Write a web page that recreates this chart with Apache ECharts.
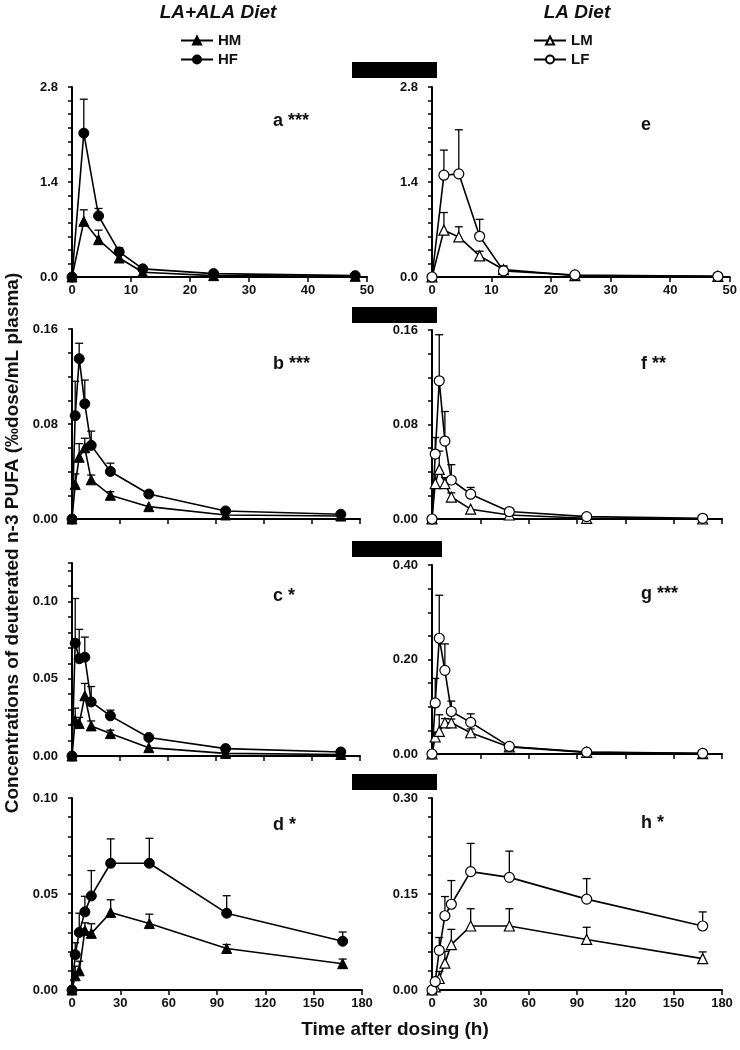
<!DOCTYPE html>
<html>
<head>
<meta charset="utf-8">
<script src="https://cdn.jsdelivr.net/npm/echarts@6/dist/echarts.min.js"></script>
<style>
  html, body { margin: 0; padding: 0; background: #fff; }
  #chart { width: 740px; height: 1050px; }
</style>
</head>
<body>
<div id="chart"></div>
<script>
var FONT = 'Liberation Sans, Arial, sans-serif'

// sampling times (h)
var timesShort = [0, 2, 4.5, 8, 12, 24, 48]
var timesLong = [0, 2, 4.5, 8, 12, 24, 48, 96, 168]

// panel a (LA+ALA diet)
var aHM = [0, 0.82, 0.55, 0.28, 0.07, 0.02, 0.01]
var aHMsd = [0, 0.17, 0.14, 0.08, 0.02, 0, 0]
var aHF = [0, 2.12, 0.90, 0.37, 0.12, 0.05, 0.02]
var aHFsd = [0, 0.50, 0.11, 0.06, 0.03, 0.01, 0]
// panel e (LA diet)
var eLM = [0, 0.69, 0.59, 0.31, 0.11, 0.02, 0.01]
var eLMsd = [0, 0.26, 0.15, 0.07, 0.05, 0, 0]
var eLF = [0, 1.50, 1.52, 0.60, 0.09, 0.03, 0.01]
var eLFsd = [0, 0.37, 0.65, 0.25, 0.07, 0, 0]

// panel b
var bHM = [0, 0.029, 0.052, 0.060, 0.033, 0.020, 0.0104, 0.0034, 0.0025]
var bHMsd = [0, 0.009, 0.0115, 0.008, 0.004, 0.003, 0, 0, 0]
var bHF = [0, 0.087, 0.135, 0.097, 0.062, 0.040, 0.021, 0.0068, 0.004]
var bHFsd = [0, 0.029, 0.013, 0.020, 0.012, 0.007, 0, 0, 0]
// panel f
var fLM = [0, 0.030, 0.042, 0.030, 0.0186, 0.0083, 0.0034, 0.0006, 0]
var fLMsd = [0, 0.008, 0.0155, 0.005, 0.0035, 0, 0, 0, 0]
var fLF = [0, 0.055, 0.117, 0.066, 0.033, 0.021, 0.0063, 0.002, 0.0006]
var fLFsd = [0, 0.014, 0.039, 0.025, 0.013, 0.0057, 0.0015, 0, 0]

// panel c
var cHM = [0, 0.023, 0.021, 0.039, 0.0195, 0.0145, 0.0054, 0.0017, 0.001]
var cHMsd = [0, 0.008, 0.004, 0.008, 0.0032, 0.0022, 0, 0, 0]
var cHF = [0, 0.073, 0.063, 0.064, 0.035, 0.026, 0.012, 0.0048, 0.0026]
var cHFsd = [0, 0.029, 0.019, 0.013, 0.010, 0.0037, 0.001, 0, 0]
// panel g
var gLM = [0, 0.036, 0.048, 0.066, 0.066, 0.045, 0.015, 0.0035, 0.0007]
var gLMsd = [0, 0.010, 0.035, 0.009, 0.008, 0.008, 0, 0, 0]
var gLF = [0, 0.108, 0.245, 0.177, 0.090, 0.067, 0.016, 0.004, 0.0015]
var gLFsd = [0, 0.052, 0.091, 0.056, 0.022, 0.018, 0.003, 0, 0]

// panel d
var dHM = [0, 0.0074, 0.010, 0.031, 0.0295, 0.0404, 0.0346, 0.0216, 0.0137]
var dHMsd = [0, 0.005, 0.005, 0.004, 0.005, 0.0066, 0.0049, 0.0021, 0.0024]
var dHF = [0, 0.0184, 0.030, 0.0407, 0.049, 0.066, 0.066, 0.040, 0.0254]
var dHFsd = [0, 0.0062, 0.010, 0.0081, 0.0132, 0.0127, 0.013, 0.0091, 0.0048]
// panel h
var hLM = [0, 0.005, 0.018, 0.042, 0.071, 0.100, 0.100, 0.079, 0.049]
var hLMsd = [0, 0, 0.011, 0.0185, 0.0237, 0.027, 0.027, 0.019, 0.0105]
var hLF = [0, 0.013, 0.062, 0.116, 0.134, 0.185, 0.176, 0.142, 0.100]
var hLFsd = [0, 0, 0.020, 0.030, 0.037, 0.044, 0.041, 0.032, 0.022]

// axis ranges: [max, minor step, labelled step, decimals]
var yAE = [2.8, 0.2, 1.4, 1]
var yBF = [0.16, 0.02, 0.08, 2]
var yC = [0.125, 0.01, 0.05, 2]
var yG = [0.40, 0.05, 0.20, 2]
var yD = [0.10, 0.01, 0.05, 2]
var yH = [0.30, 0.03, 0.15, 2]
var xShort = [50, 10]
var xLong = [180, 30]

var panels = [
  { tag: 'a ***', box: [72, 87, 295, 190], lab: [273, 123], x: xShort, show: true, y: yAE, t: timesShort,
    s: [['HM', aHM, aHMsd, 'triangle', false], ['HF', aHF, aHFsd, 'circle', false]] },
  { tag: 'e', box: [432, 87, 300, 190], lab: [641, 127], x: xShort, show: true, y: yAE, t: timesShort,
    s: [['LM', eLM, eLMsd, 'triangle', true], ['LF', eLF, eLFsd, 'circle', true]] },
  { tag: 'b ***', box: [72, 329, 288, 190], lab: [273, 366], x: xLong, show: false, y: yBF, t: timesLong,
    s: [['HM', bHM, bHMsd, 'triangle', false], ['HF', bHF, bHFsd, 'circle', false]] },
  { tag: 'f **', box: [432, 330, 290, 189], lab: [641, 366], x: xLong, show: false, y: yBF, t: timesLong,
    s: [['LM', fLM, fLMsd, 'triangle', true], ['LF', fLF, fLFsd, 'circle', true]] },
  { tag: 'c *', box: [72, 563, 288, 193], lab: [273, 598], x: xLong, show: false, y: yC, t: timesLong,
    s: [['HM', cHM, cHMsd, 'triangle', false], ['HF', cHF, cHFsd, 'circle', false]] },
  { tag: 'g ***', box: [432, 565, 290, 189], lab: [641, 596], x: xLong, show: false, y: yG, t: timesLong,
    s: [['LM', gLM, gLMsd, 'triangle', true], ['LF', gLF, gLFsd, 'circle', true]] },
  { tag: 'd *', box: [72, 798, 290, 192], lab: [273, 827], x: xLong, show: true, y: yD, t: timesLong,
    s: [['HM', dHM, dHMsd, 'triangle', false], ['HF', dHF, dHFsd, 'circle', false]] },
  { tag: 'h *', box: [432, 798, 290, 192], lab: [641, 825], x: xLong, show: true, y: yH, t: timesLong,
    s: [['LM', hLM, hLMsd, 'triangle', true], ['LF', hLF, hLFsd, 'circle', true]] }
]

function renderErr (params, api) {
  var base = api.coord([api.value(0), api.value(1)])
  var top = api.coord([api.value(0), api.value(2)])
  var st = { stroke: '#000', lineWidth: 1.3 }
  return {
    type: 'group',
    children: [
      { type: 'line', shape: { x1: base[0], y1: base[1], x2: top[0], y2: top[1] }, style: st },
      { type: 'line', shape: { x1: top[0] - 4, y1: top[1], x2: top[0] + 4, y2: top[1] }, style: st }
    ]
  }
}

var grids = []
var xAxes = []
var yAxes = []
var series = []
var graphics = []

panels.forEach(function (p, i) {
  grids.push({ left: p.box[0], top: p.box[1], width: p.box[2], height: p.box[3] })
  xAxes.push({
    type: 'value', gridIndex: i, min: 0, max: p.x[0], interval: p.x[1],
    axisLine: { lineStyle: { color: '#000', width: 2 } },
    axisTick: { show: true, inside: false, length: 5, lineStyle: { color: '#000', width: 1.5 } },
    axisLabel: { show: p.show, color: '#111', fontFamily: FONT, fontWeight: 'bold', fontSize: 13, margin: 7 },
    splitLine: { show: false }
  })
  var ya = p.y
  yAxes.push({
    type: 'value', gridIndex: i, min: 0, max: ya[0], interval: ya[1],
    axisLine: { show: true, lineStyle: { color: '#000', width: 2 } },
    axisTick: { show: true, inside: false, length: 4, lineStyle: { color: '#000', width: 1.5 } },
    axisLabel: {
      color: '#111', fontFamily: FONT, fontWeight: 'bold', fontSize: 13, margin: 14,
      formatter: function (v) {
        var r = v / ya[2]
        return Math.abs(r - Math.round(r)) < 1e-6 ? v.toFixed(ya[3]) : ''
      }
    },
    splitLine: { show: false }
  })
  p.s.forEach(function (s) {
    var pts = p.t.map(function (t, k) { return [t, s[1][k]] })
    var errs = []
    p.t.forEach(function (t, k) {
      if (s[2][k] > 0) errs.push([t, s[1][k], s[1][k] + s[2][k]])
    })
    series.push({
      type: 'custom', name: s[0] + ' sd', xAxisIndex: i, yAxisIndex: i, z: 1,
      renderItem: renderErr, data: errs, silent: true
    })
    series.push({
      type: 'line', name: s[0], xAxisIndex: i, yAxisIndex: i, z: 3,
      data: pts, symbol: s[3], symbolSize: 10,
      showAllSymbol: true, clip: false,
      lineStyle: { color: '#000', width: 1.6 },
      itemStyle: s[4]
        ? { color: '#fff', borderColor: '#000', borderWidth: 1.2 }
        : { color: '#000', borderColor: '#000', borderWidth: 1 }
    })
  })
  graphics.push({
    type: 'text', left: p.lab[0], top: p.lab[1] - 11,
    style: { text: p.tag, font: 'bold 18px ' + FONT, fill: '#111' }
  })
})

// black bars between the columns
var bars = [[352, 62, 85, 16], [352, 307, 85, 16], [352, 541, 90, 16], [352, 774, 85, 16]]
bars.forEach(function (b) {
  graphics.push({ type: 'rect', shape: { x: b[0], y: b[1], width: b[2], height: b[3] }, style: { fill: '#000' } })
})

graphics.push({
  type: 'text', x: 218, y: 13,
  style: { text: 'LA+ALA Diet', font: 'italic bold 19px ' + FONT, fill: '#111', align: 'center', verticalAlign: 'middle' }
})
graphics.push({
  type: 'text', x: 577, y: 13,
  style: { text: 'LA Diet', font: 'italic bold 19px ' + FONT, fill: '#111', align: 'center', verticalAlign: 'middle' }
})
graphics.push({
  type: 'text', x: 13, y: 543, rotation: Math.PI / 2,
  style: { text: 'Concentrations of deuterated n-3 PUFA (\u2030dose/mL plasma)', font: 'bold 19px ' + FONT, fill: '#111', align: 'center', verticalAlign: 'middle' }
})
graphics.push({
  type: 'text', x: 395, y: 1030,
  style: { text: 'Time after dosing (h)', font: 'bold 19px ' + FONT, fill: '#111', align: 'center', verticalAlign: 'middle' }
})

var legendText = { fontFamily: FONT, fontWeight: 'bold', fontSize: 15, color: '#111' }
var chart = echarts.init(document.getElementById('chart'))
chart.setOption({
  animation: false,
  grid: grids,
  xAxis: xAxes,
  yAxis: yAxes,
  legend: [
    { data: ['HM', 'HF'], orient: 'vertical', left: 180, top: 33, itemWidth: 32, itemHeight: 10, itemGap: 4, padding: 0, selectedMode: false, textStyle: legendText },
    { data: ['LM', 'LF'], orient: 'vertical', left: 533, top: 33, itemWidth: 32, itemHeight: 10, itemGap: 4, padding: 0, selectedMode: false, textStyle: legendText }
  ],
  graphic: graphics,
  series: series
})
</script>
</body>
</html>
